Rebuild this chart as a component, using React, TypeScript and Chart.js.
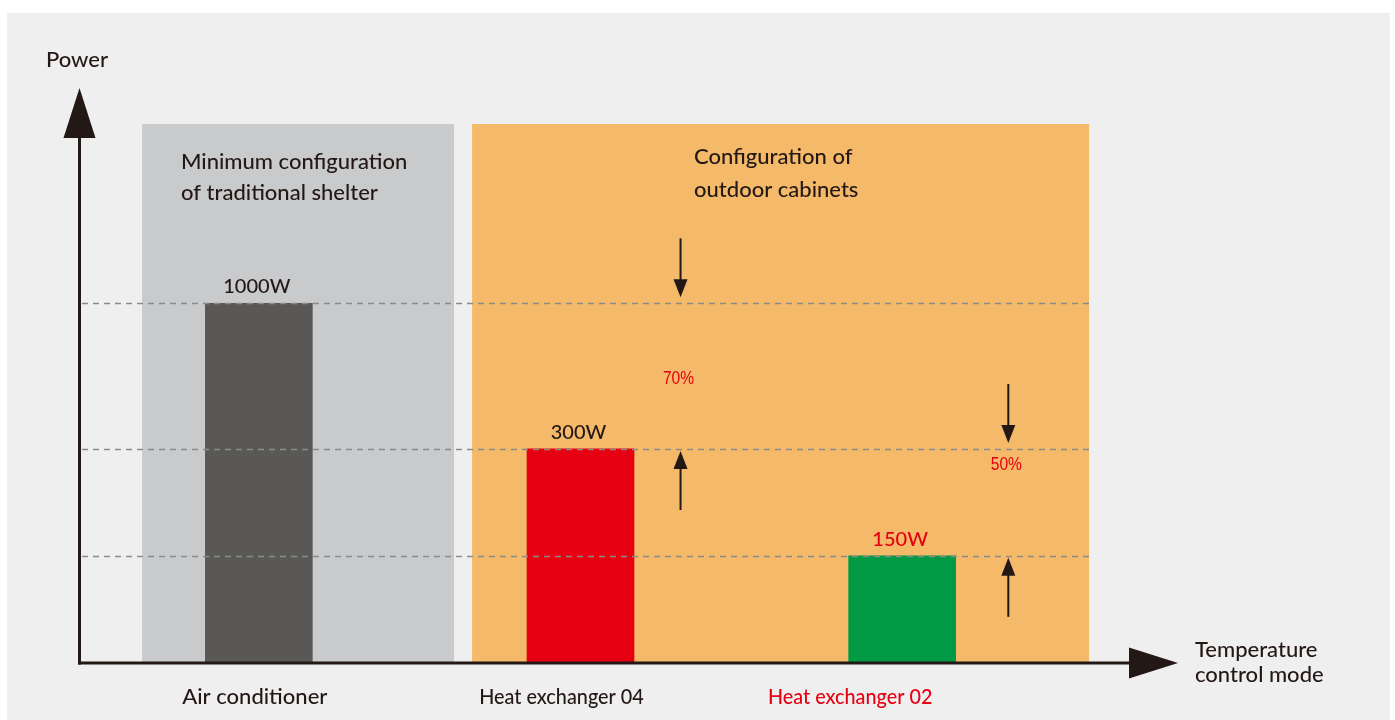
import React, { useEffect, useRef } from 'react';
import { Chart, registerables } from 'chart.js';

Chart.register(...registerables);

// ---- data ----
const categories = ['Air conditioner', 'Heat exchanger 04', 'Heat exchanger 02'];
const powerLabels = ['1000W', '300W', '150W'];
// bar heights as drawn in the illustration (not to scale with the watts), read on a 0–1500 axis
const drawnLevels = [1000, 594, 296];
const barColors = ['#595856', '#e60012', '#009a44'];
const valueLabelColors = ['#231815', '#231815', '#e60012'];
const categoryLabelColors = ['#231815', '#231815', '#e60012'];
const reductionLabels = ['70%', '50%'];
const panelTitles = [
  ['Minimum configuration', 'of traditional shelter'],
  ['Configuration of', 'outdoor cabinets'],
];
const panelColors = ['#c9cacb', '#f4b969'];
const yAxisTitle = 'Power';
const xAxisTitle = ['Temperature', 'control mode'];

// ---- layout (decoration only) ----
const INK = '#231815';
const FAMILY = 'Lato, "Noto Sans", sans-serif';
const FONT = `500 22px ${FAMILY}`;
const VALUE_FONT = `500 20px ${FAMILY}`;
const PANEL_X = [
  [-0.363, 0.607],
  [0.663, 2.581],
];
const PANEL_TITLE_POS = [
  { x: 181, y: [169, 200] },
  { x: 694, y: [164, 197] },
];
const CAT_LABEL_SHIFT = [-4, -19, -52];
const CAT_LABEL_SQUEEZE = [1, 0.9, 0.9];

const decorPlugin = {
  id: 'decor',
  beforeDatasetsDraw(chart: any) {
    const { ctx, scales } = chart;
    const xs = scales.x;
    const ys = scales.y;
    ctx.save();
    ctx.fillStyle = '#ffffff';
    ctx.fillRect(0, 0, chart.width, chart.height);
    ctx.fillStyle = '#efefef';
    ctx.fillRect(7, 13, 1383, 707);
    const top = ys.getPixelForValue(ys.max);
    const bottom = ys.getPixelForValue(0);
    PANEL_X.forEach((p, i) => {
      const x0 = xs.getPixelForValue(p[0]);
      const x1 = xs.getPixelForValue(p[1]);
      ctx.fillStyle = panelColors[i];
      ctx.fillRect(x0, top, x1 - x0, bottom - top);
    });
    // panel titles
    ctx.fillStyle = INK;
    ctx.font = FONT;
    ctx.textAlign = 'left';
    ctx.textBaseline = 'alphabetic';
    panelTitles.forEach((lines, i) => {
      lines.forEach((t, j) => ctx.fillText(t, PANEL_TITLE_POS[i].x, PANEL_TITLE_POS[i].y[j]));
    });
    ctx.restore();
  },
  afterDatasetsDraw(chart: any) {
    const { ctx, scales } = chart;
    const xs = scales.x;
    const ys = scales.y;
    const meta = chart.getDatasetMeta(0);
    ctx.save();
    const lineEnd = xs.getPixelForValue(PANEL_X[1][1]);
    const levelY = drawnLevels.map((v) => ys.getPixelForValue(v));

    // dashed reference lines
    ctx.strokeStyle = '#8a8a8a';
    ctx.lineWidth = 1.5;
    ctx.setLineDash([6, 5]);
    levelY.forEach((y) => {
      ctx.beginPath();
      ctx.moveTo(82, Math.round(y) + 0.5);
      ctx.lineTo(lineEnd, Math.round(y) + 0.5);
      ctx.stroke();
    });
    ctx.setLineDash([]);

    // axes
    const base = ys.getPixelForValue(0);
    ctx.strokeStyle = INK;
    ctx.fillStyle = INK;
    ctx.lineWidth = 3;
    ctx.beginPath();
    ctx.moveTo(79.5, base + 2.5);
    ctx.lineTo(79.5, 130);
    ctx.stroke();
    ctx.beginPath();
    ctx.moveTo(78, base + 1);
    ctx.lineTo(1135, base + 1);
    ctx.stroke();
    // arrowheads
    ctx.beginPath();
    ctx.moveTo(79.5, 88);
    ctx.lineTo(63.5, 138);
    ctx.lineTo(95.5, 138);
    ctx.closePath();
    ctx.fill();
    ctx.beginPath();
    ctx.moveTo(1178, base + 1);
    ctx.lineTo(1129, base + 1 - 15.5);
    ctx.lineTo(1129, base + 1 + 15.5);
    ctx.closePath();
    ctx.fill();

    // reduction arrows
    const drawArrow = (x: number, yFrom: number, yTip: number) => {
      const dir = yTip > yFrom ? 1 : -1;
      ctx.lineWidth = 2;
      ctx.beginPath();
      ctx.moveTo(x, yFrom);
      ctx.lineTo(x, yTip - dir * 14);
      ctx.stroke();
      ctx.beginPath();
      ctx.moveTo(x, yTip);
      ctx.lineTo(x - 7, yTip - dir * 18);
      ctx.lineTo(x + 7, yTip - dir * 18);
      ctx.closePath();
      ctx.fill();
    };
    const arrowX = [xs.getPixelForValue(1.311), xs.getPixelForValue(2.33)];
    for (let k = 0; k < 2; k++) {
      const yUp = levelY[k];
      const yLow = levelY[k + 1];
      drawArrow(arrowX[k], yUp - 65, yUp - 6);
      drawArrow(arrowX[k], yLow + 61, yLow + 2);
    }
    // reduction labels (condensed)
    ctx.fillStyle = '#e60012';
    ctx.font = '19px "Liberation Sans", Arial, sans-serif';
    ctx.textAlign = 'center';
    const pctPos = [
      { x: arrowX[0] - 2, y: (levelY[0] + levelY[1]) / 2 + 8 },
      { x: arrowX[1] - 2, y: levelY[1] + 21 },
    ];
    reductionLabels.forEach((t, i) => {
      ctx.save();
      ctx.translate(pctPos[i].x, pctPos[i].y);
      ctx.scale(0.82, 1);
      ctx.fillText(t, 0, 0);
      ctx.restore();
    });

    // value labels + category labels
    ctx.textAlign = 'center';
    meta.data.forEach((bar: any, i: number) => {
      ctx.font = VALUE_FONT;
      ctx.fillStyle = valueLabelColors[i];
      ctx.fillText(powerLabels[i], bar.x - 2, bar.y - 10);
      ctx.font = FONT;
      ctx.fillStyle = categoryLabelColors[i];
      ctx.save();
      ctx.translate(bar.x + CAT_LABEL_SHIFT[i], 704);
      ctx.scale(CAT_LABEL_SQUEEZE[i], 1);
      ctx.fillText(categories[i], 0, 0);
      ctx.restore();
    });

    // axis titles
    ctx.font = FONT;
    ctx.fillStyle = INK;
    ctx.textAlign = 'left';
    ctx.fillText(yAxisTitle, 46, 67);
    ctx.fillText(xAxisTitle[0], 1195, 657);
    ctx.fillText(xAxisTitle[1], 1195, 682);
    ctx.restore();
  },
};

export default function App() {
  const ref = useRef<HTMLCanvasElement | null>(null);
  useEffect(() => {
    if (!ref.current) return;
    const chart = new Chart(ref.current, {
      type: 'bar',
      data: {
        labels: categories,
        datasets: [
          {
            data: drawnLevels,
            backgroundColor: barColors,
            barThickness: 107,
            borderWidth: 0,
          },
        ],
      },
      options: {
        responsive: false,
        animation: false,
        devicePixelRatio: 1,
        layout: { padding: { left: 98, right: 332, top: 124, bottom: 58 } },
        scales: {
          x: { type: 'category', display: false, offset: true, grid: { display: false } },
          y: { type: 'linear', display: false, min: 0, max: 1500 },
        },
        plugins: {
          legend: { display: false },
          tooltip: { enabled: false },
        },
      },
      plugins: [decorPlugin],
    });
    return () => chart.destroy();
  }, []);
  return (
    <div style={{ position: 'fixed', left: 0, top: 0, width: 1395, height: 720, background: '#fff' }}>
      <canvas ref={ref} width={1395} height={720} style={{ display: 'block', width: 1395, height: 720 }} />
    </div>
  );
}
